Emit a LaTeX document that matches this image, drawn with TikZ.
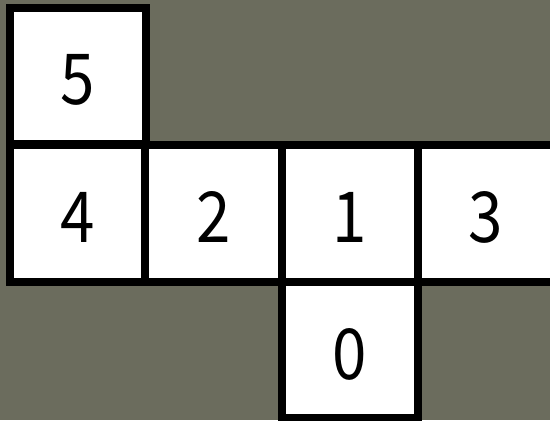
\documentclass[tikz,border=0pt]{standalone}
\usepackage{fontspec}
\setmainfont{Noto Sans CJK JP}
\usetikzlibrary{positioning}
\definecolor{cbg}{HTML}{6B6C5D}
\tikzset{
  every picture/.style={line width=0.16cm},
  face/.style={draw=black, fill=white, minimum size=2.73cm, inner sep=0pt,
    font=\fontsize{40}{40}\selectfont, text depth=0pt},
}
\newcommand{\facelabel}[1]{\raisebox{-0.15cm}{\scalebox{0.88}[1]{#1}}}

\begin{document}
\begin{tikzpicture}[x=0.02cm, y=-0.02cm]
  % ---------- background ----------
  \fill[cbg] (0,0) rectangle (550,420);
  \useasboundingbox (0,0) rectangle (550,420);
  % ---------- faces of the net ----------
  \node[face] (f5) at (78, 76) {\facelabel{5}};
  \node[face] (f4) at (78, 213.5) {\facelabel{4}};
  \node[face] (f2) at (213.5, 213.5) {\facelabel{2}};
  \node[face] (f1) at (350, 213.5) {\facelabel{1}};
  \node[face] (f3) at (486, 213.5) {\facelabel{3}};
  \node[face] (f0) at (350, 350) {\facelabel{0}};
\end{tikzpicture}
\end{document}
